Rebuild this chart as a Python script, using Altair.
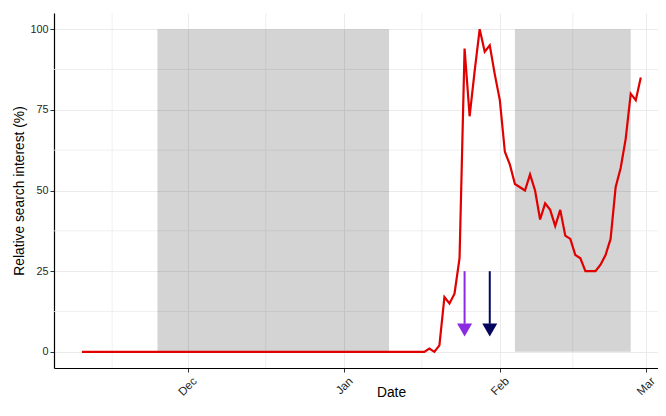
import altair as alt
import pandas as pd

# ---------------- data ----------------
first_day = "2019-11-10"
last_day = "2020-02-29"

interest = (
    # Nov 10 - Nov 30
    [0, 0, 0, 0, 0, 0, 0, 0, 0, 0, 0, 0, 0, 0, 0, 0, 0, 0, 0, 0, 0]
    # Dec 1 - Dec 31
    + [0, 0, 0, 0, 0, 0, 0, 0, 0, 0, 0, 0, 0, 0, 0, 0, 0, 0, 0, 0, 0, 0, 0, 0, 0, 0, 0, 0, 0, 0, 0]
    # Jan 1 - Jan 31
    + [0, 0, 0, 0, 0, 0, 0, 0, 0, 0, 0, 0, 0, 0, 0, 0, 0, 1, 0, 2, 17, 15, 18, 29, 94, 73, 87, 100, 93, 95, 86]
    # Feb 1 - Feb 29
    + [78, 62, 58, 52, 51, 50, 55, 50, 41, 46, 44, 39, 44, 36, 35, 30, 29, 25, 25, 25, 27, 30, 35, 51, 57, 66, 80, 78, 85]
)
dates = pd.date_range(first_day, last_day, freq="D").strftime("%Y-%m-%d").tolist()
assert len(dates) == len(interest)

band_start = ["2019-11-25", "2020-02-04"]
band_end = ["2020-01-10", "2020-02-27"]
band_low = [0, 0]
band_high = [100, 100]

arrow_dates = ["2020-01-25", "2020-01-30"]
arrow_names = ["a", "b"]
arrow_colors = ["#8A2BE2", "#05055F"]
arrow_top = [25, 25]
arrow_base = [8.7, 8.7]
arrow_head = [6.8, 6.8]

month_ticks = ["2019-12-01", "2020-01-01", "2020-02-01", "2020-03-01"]
minor_x = ["2019-11-16T00:00:00Z", "2019-12-16T12:00:00Z", "2020-01-16T12:00:00Z", "2020-02-15T12:00:00Z"]
y_ticks = [0, 25, 50, 75, 100]
minor_y = [12.5, 37.5, 62.5, 87.5]

line_df = pd.DataFrame({"date": dates, "value": interest})
band_df = pd.DataFrame({"start": band_start, "end": band_end, "lo": band_low, "hi": band_high})
arrow_df = pd.DataFrame({"date": arrow_dates, "name": arrow_names, "top": arrow_top,
                         "base": arrow_base, "head": arrow_head})
minor_x_df = pd.DataFrame({"date": minor_x})
minor_y_df = pd.DataFrame({"v": minor_y})

# ---------------- scales ----------------
def dt(s, h=0, m=0):
    y, mo, d = [int(p) for p in s.split("-")]
    return alt.DateTime(year=y, month=mo, date=d, hours=h, minutes=m, utc=True)

xscale = alt.Scale(type="utc", domain=[dt("2019-11-04", 10, 48), dt("2020-03-03", 10, 0)])
yscale = alt.Scale(domain=[-5, 105], nice=False, zero=False)

FONT = "Liberation Sans"
TXT = "#1f1f1f"

xaxis = alt.Axis(
    values=[dt(s) for s in month_ticks],
    labelExpr="utcFormat(datum.value, '%b')",
    labelAngle=315, labelAlign="right", labelBaseline="top",
    labelOffset=3, labelPadding=3, labelFontSize=11.6, labelColor=TXT,
    labelFont=FONT, labelOverlap=False,
    tickSize=4, tickColor="#333333", tickWidth=1,
    domainColor="black", domainWidth=1.2,
    grid=True, gridColor="#ebebeb", gridWidth=1,
    title="Date", titleFont=FONT, titleFontSize=13.8, titleFontWeight="normal",
    titleColor="black", titleX=337, titleY=28, titleAlign="center", titleBaseline="alphabetic",
)
yaxis = alt.Axis(
    values=y_ticks, labelFontSize=10.8, labelColor=TXT, labelFont=FONT, labelPadding=2,
    tickSize=4, tickColor="#333333", tickWidth=1,
    domainColor="black", domainWidth=1.2,
    grid=True, gridColor="#ebebeb", gridWidth=1,
    title="Relative search interest (%)", titleFont=FONT, titleFontSize=13.8,
    titleFontWeight="normal", titleColor="black", titlePadding=3,
)

# ---------------- layers ----------------
base_axes = alt.Chart(line_df).mark_line(opacity=0).encode(
    x=alt.X("date:T", scale=xscale, axis=xaxis),
    y=alt.Y("value:Q", scale=yscale, axis=yaxis),
)

minor_v = alt.Chart(minor_x_df).mark_rule(color="#ebebeb", strokeWidth=0.8).encode(
    x=alt.X("date:T", scale=xscale)
)
minor_h = alt.Chart(minor_y_df).mark_rule(color="#ebebeb", strokeWidth=0.8).encode(
    y=alt.Y("v:Q", scale=yscale)
)

bands = alt.Chart(band_df).mark_rect(color="black", opacity=0.17).encode(
    x=alt.X("start:T", scale=xscale),
    x2="end:T",
    y=alt.Y("lo:Q", scale=yscale),
    y2="hi:Q",
)

line = alt.Chart(line_df).mark_line(color="#e00000", strokeWidth=2.2).encode(
    x=alt.X("date:T", scale=xscale),
    y=alt.Y("value:Q", scale=yscale),
)

cscale = alt.Scale(domain=arrow_names, range=arrow_colors)
shafts = alt.Chart(arrow_df).mark_rule(strokeWidth=2).encode(
    x=alt.X("date:T", scale=xscale),
    y=alt.Y("top:Q", scale=yscale),
    y2="base:Q",
    color=alt.Color("name:N", scale=cscale, legend=None),
)
heads = alt.Chart(arrow_df).mark_point(
    shape="M-1,-0.87L1,-0.87L0,0.87Z", filled=True, opacity=1, size=225, strokeWidth=0
).encode(
    x=alt.X("date:T", scale=xscale),
    y=alt.Y("head:Q", scale=yscale),
    color=alt.Color("name:N", scale=cscale, legend=None),
)

chart = alt.layer(base_axes, minor_v, minor_h, bands, line, shafts, heads).properties(
    width=604, height=355,
    autosize=alt.AutoSizeParams(type="none"),
    padding={"left": 46, "top": 5, "right": 0, "bottom": 32},
    background="white",
).configure_view(stroke=None)

chart.save("out.html", embed_options={"renderer": "svg", "actions": False})
